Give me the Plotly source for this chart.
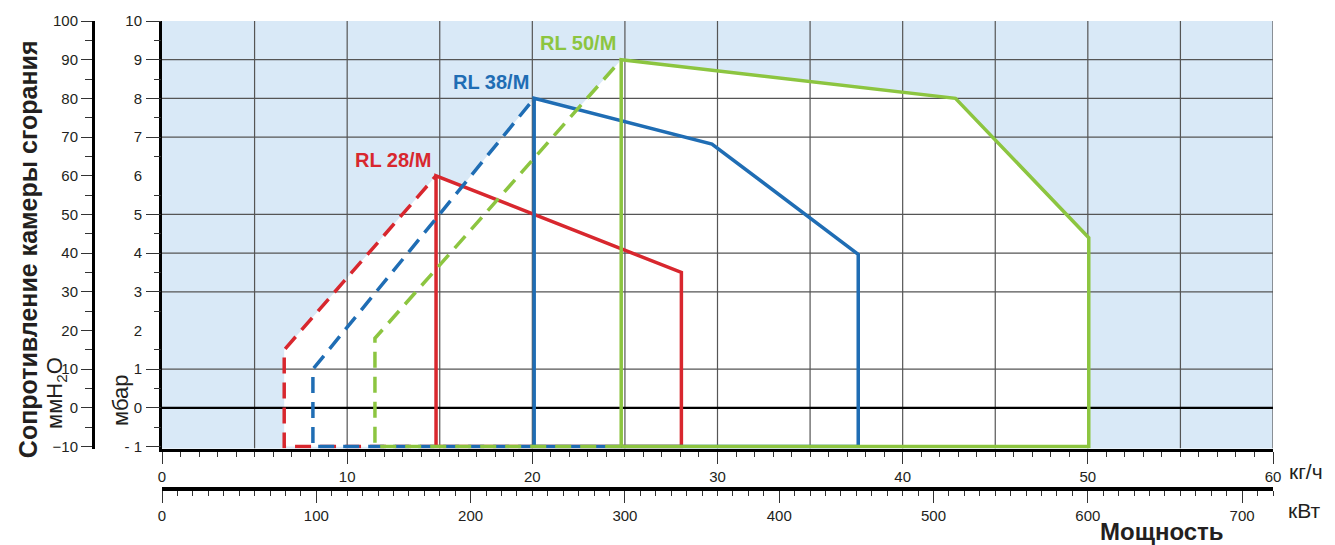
import plotly.graph_objects as go

# ---------------- data ----------------
burners = ["RL 28/M", "RL 38/M", "RL 50/M"]
colors = ["#d8272e", "#1f6db4", "#8cc540"]

# dashed (start-up) side: minimum output and pressure at minimum output
min_output = [6.6, 8.15, 11.5]          # kg/h
min_pressure = [1.5, 1.0, 1.8]          # mbar

# solid working field outline (kg/h, mbar)
rl28_x = [14.8, 28.05]
rl28_y = [6.0, 3.5]
rl38_x = [20.1, 29.7, 37.6]
rl38_y = [8.0, 6.82, 3.97]
rl50_x = [24.8, 42.85, 50.05]
rl50_y = [9.0, 8.0, 4.4]
field_x = [rl28_x, rl38_x, rl50_x]
field_y = [rl28_y, rl38_y, rl50_y]
base_pressure = -1.0

# axis ticks
kg_ticks = list(range(0, 61, 5))
kg_text = [str(v) if v % 10 == 0 else "" for v in kg_ticks]
kg_minor = list(range(0, 61, 1))
kw_ticks = list(range(0, 701, 50))
kw_text = [str(v) if v % 100 == 0 else "" for v in kw_ticks]
kw_minor = list(range(0, 721, 10))
mbar_labels = list(range(-1, 11))
mbar_text = ["- 1" if v == -1 else str(v) for v in mbar_labels]
mbar_ticks = [-1, 0, 1, 3, 4, 5, 7, 8, 9, 10]
mbar_minor = [v + 0.5 for v in range(-1, 10)]
mbar_grid = [1, 3, 4, 5, 7, 8, 9]
mmh2o_ticks = list(range(-10, 101, 10))
mmh2o_minor = list(range(-5, 100, 10))
kw_per_kg = 12.0
x_min_axis, x_max_axis = 0, 60
y_min_axis, y_max_axis = -1, 10

# ---------------- layout geometry ----------------
W, H = 1335, 545
ML, MR, MT, MB = 40, 62, 17, 30
PW, PH = W - ML - MR, H - MT - MB
x_dom0 = (162 - ML) / PW
y_dom0 = (H - MB - 448) / PH
kw_pos = (H - MB - 489) / PH
mm_pos = (93 - ML) / PW
y_pad = 0.05                      # colored bottom lines sit just above the axis line
kw_span = x_max_axis * kw_per_kg

FONT = "Liberation Sans, Arial, sans-serif"
TXT = "#231f20"
BG = "#d9e9f7"
GRID = "#555555"

fig = go.Figure()

# white working fields
for i in range(3):
    px = [min_output[i], min_output[i]] + field_x[i] + [field_x[i][-1], min_output[i]]
    py = [base_pressure, min_pressure[i]] + field_y[i] + [base_pressure, base_pressure]
    fig.add_trace(go.Scatter(x=px, y=py, mode="lines", fill="toself", fillcolor="white",
                             line=dict(width=0, color="white"), showlegend=False,
                             hoverinfo="skip"))

# grid lines
gx, gy = [], []
for v in kg_ticks[1:]:
    gx += [v, v, None]
    gy += [y_min_axis - y_pad, y_max_axis, None]
for v in mbar_grid:
    gx += [x_min_axis, x_max_axis, None]
    gy += [v, v, None]
fig.add_trace(go.Scatter(x=gx, y=gy, mode="lines", line=dict(color=GRID, width=1.2),
                         showlegend=False, hoverinfo="skip"))
# zero line
fig.add_trace(go.Scatter(x=[x_min_axis, x_max_axis], y=[0, 0], mode="lines",
                         line=dict(color="black", width=2.2), showlegend=False,
                         hoverinfo="skip"))

for i in range(3):
    xs0 = field_x[i][0]
    ys0 = field_y[i][0]
    fig.add_trace(go.Scatter(
        x=[xs0, min_output[i], min_output[i], xs0],
        y=[base_pressure, base_pressure, min_pressure[i], ys0],
        mode="lines", line=dict(color=colors[i], width=3.5, dash="16px,9px"),
        showlegend=False, hoverinfo="skip"))
    fig.add_trace(go.Scatter(
        x=[xs0] + field_x[i] + [field_x[i][-1], xs0],
        y=[base_pressure] + field_y[i] + [base_pressure, base_pressure],
        mode="lines", line=dict(color=colors[i], width=3.5),
        showlegend=False, hoverinfo="skip"))

# invisible traces so the extra axes are drawn
fig.add_trace(go.Scatter(x=[0, kw_span], y=[None, None], xaxis="x2", yaxis="y",
                         mode="lines", showlegend=False, hoverinfo="skip"))
fig.add_trace(go.Scatter(x=[None, None], y=[-10, 100], xaxis="x", yaxis="y2",
                         mode="lines", showlegend=False, hoverinfo="skip"))
fig.add_trace(go.Scatter(x=[None, None], y=[-1, 10], xaxis="x", yaxis="y3",
                         mode="lines", showlegend=False, hoverinfo="skip"))

annotations = []
for i in range(3):
    annotations.append(dict(x=field_x[i][0] - 0.15, y=field_y[i][0] + 0.42, xref="x", yref="y",
                            text=f"<b>{burners[i]}</b>", showarrow=False, xanchor="right",
                            yanchor="middle", font=dict(family=FONT, size=20, color=colors[i])))


def pap_x(px):
    return (px - ML) / PW


def pap_y(py):
    return (H - MB - py) / PH


annotations += [
    dict(x=pap_x(28), y=pap_y(247), xref="paper", yref="paper",
         text="<b>Сопротивление камеры сгорания</b>",
         textangle=-90, showarrow=False, xanchor="center", yanchor="middle",
         font=dict(family=FONT, size=25, color=TXT)),
    dict(x=pap_x(56), y=pap_y(392), xref="paper", yref="paper", text="ммH<sub>2</sub>O",
         textangle=-90, showarrow=False, xanchor="center", yanchor="middle",
         font=dict(family=FONT, size=22, color=TXT)),
    dict(x=pap_x(121), y=pap_y(400), xref="paper", yref="paper", text="мбар",
         textangle=-90, showarrow=False, xanchor="center", yanchor="middle",
         font=dict(family=FONT, size=22, color=TXT)),
    dict(x=pap_x(1306), y=pap_y(471), xref="paper", yref="paper", text="кг/ч",
         showarrow=False, xanchor="center", yanchor="middle",
         font=dict(family=FONT, size=21, color=TXT)),
    dict(x=pap_x(1304), y=pap_y(510), xref="paper", yref="paper", text="кВт",
         showarrow=False, xanchor="center", yanchor="middle",
         font=dict(family=FONT, size=21, color=TXT)),
    dict(x=pap_x(1162), y=pap_y(532), xref="paper", yref="paper", text="<b>Мощность</b>",
         showarrow=False, xanchor="center", yanchor="middle",
         font=dict(family=FONT, size=24, color=TXT)),
]

tickfont = dict(family=FONT, size=15, color=TXT)

fig.update_layout(
    width=W, height=H,
    margin=dict(l=ML, r=MR, t=MT, b=MB),
    paper_bgcolor="white", plot_bgcolor=BG,
    showlegend=False,
    annotations=annotations,
    xaxis=dict(domain=[x_dom0, 1], range=[x_min_axis, x_max_axis], tickmode="array",
               tickvals=kg_ticks, ticktext=kg_text, ticks="outside", ticklen=12, tickwidth=1.3,
               tickcolor="#333",
               minor=dict(tickmode="array", tickvals=kg_minor, ticks="outside", ticklen=5,
                          tickwidth=1, tickcolor="#333", showgrid=False),
               showgrid=False, zeroline=False,
               showline=True, linecolor="black", linewidth=3, tickfont=tickfont,
               anchor="y", fixedrange=True),
    xaxis2=dict(range=[0, kw_span], overlaying="x",
                anchor="free", position=kw_pos, side="bottom", tickmode="array",
                tickvals=kw_ticks, ticktext=kw_text, ticks="outside", ticklen=12, tickwidth=1.3,
                tickcolor="#333",
                minor=dict(tickmode="array", tickvals=kw_minor, ticks="outside", ticklen=5,
                           tickwidth=1, tickcolor="#333", showgrid=False),
                showgrid=False, zeroline=False, showline=True, linecolor="black", linewidth=3.5,
                tickfont=tickfont, fixedrange=True),
    yaxis=dict(domain=[y_dom0, 1], range=[y_min_axis - y_pad, y_max_axis], tickmode="array",
               tickvals=mbar_labels, ticktext=mbar_text, ticks="", ticklabelstandoff=14,
               showgrid=False, zeroline=False,
               showline=True, linecolor="black", linewidth=3, tickfont=tickfont,
               anchor="x", fixedrange=True),
    yaxis3=dict(overlaying="y", anchor="x", side="left", range=[y_min_axis - y_pad, y_max_axis],
                tickmode="array", tickvals=mbar_ticks, ticks="outside", ticklen=15,
                tickwidth=1.3, tickcolor="#333",
                minor=dict(tickmode="array", tickvals=mbar_minor, ticks="outside", ticklen=7,
                           tickwidth=1, tickcolor="#333", showgrid=False),
                showticklabels=False, showgrid=False, zeroline=False, showline=False,
                fixedrange=True),
    yaxis2=dict(overlaying="y", anchor="free", position=mm_pos, side="left",
                range=[-10 - 10 * y_pad, 100],
                tickmode="array", tickvals=mmh2o_ticks, ticks="outside", ticklen=11,
                tickwidth=1.3, tickcolor="#333",
                minor=dict(tickmode="array", tickvals=mmh2o_minor, ticks="outside", ticklen=7,
                           tickwidth=1, tickcolor="#333", showgrid=False),
                showgrid=False, zeroline=False, showline=True, linecolor="black", linewidth=3,
                tickfont=tickfont, fixedrange=True),
)

fig.write_html("out.html", config={"displayModeBar": False},
               post_script="document.body.style.margin='0px';")
